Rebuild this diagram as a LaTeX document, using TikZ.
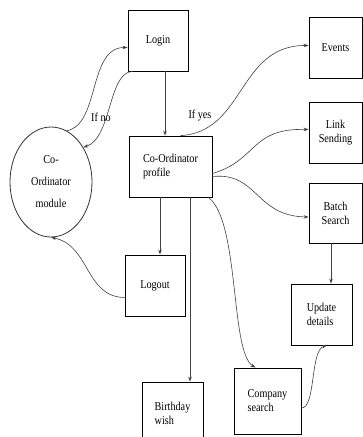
\documentclass[tikz,border=0pt]{standalone}
\usepackage{fontspec}
\setmainfont{Liberation Serif}[FakeStretch=0.85]
\usetikzlibrary{shapes.geometric,arrows.meta}
\begin{document}
\begin{tikzpicture}[x=1pt,y=-1pt,
  box/.style={draw=black,line width=0.8pt,align=left,inner sep=2pt,font=\fontsize{12}{14}\selectfont},
  arr/.style={draw=black!75,line width=0.6pt,-{Stealth[length=5pt,width=3.5pt]}},
  lbl/.style={font=\fontsize{12}{14}\selectfont,inner sep=0pt}]
\useasboundingbox (0,0) rectangle (363,437);
\clip (0,0) rectangle (363,437);
\node[box,minimum width=60pt,minimum height=61pt] (login) at (158,40.5) {Login};
\node[box,minimum width=83pt,minimum height=61pt] (prof) at (170.5,166.5) {Co-Ordinator\\profile};
\node[box,minimum width=53pt,minimum height=61pt] (ev) at (335.5,47.5) {Events};
\node[box,minimum width=53pt,minimum height=61pt,align=center] (link) at (335.5,132.5) {Link\\Sending};
\node[box,minimum width=53pt,minimum height=60pt,align=center] (batch) at (335.5,213) {Batch\\Search};
\node[box,minimum width=61pt,minimum height=61pt] (upd) at (321.5,314.5) {Update\\details};
\node[box,minimum width=67pt,minimum height=66pt] (comp) at (267.5,401) {Company\\search};
\node[box,minimum width=61pt,minimum height=63pt] (bday) at (172.5,413.5) {Birthday\\wish};
\node[box,minimum width=60pt,minimum height=61pt] (logout) at (155,285.5) {Logout};
\node[draw=black!80,line width=0.8pt,ellipse,minimum width=82pt,minimum height=110pt,align=center,inner sep=0pt,font=\fontsize{12}{22}\selectfont] (mod) at (51,182) {Co-\\Ordinator\\module};
\node[lbl] (ifno) at (101,117) {If no};
\node[lbl] (ifyes) at (200,116) {If yes};
% straight vertical arrows
\path ([xshift=7pt]login.south) coordinate (l1);
\draw[arr] (l1) -- (l1 |- prof.north);
\path ([xshift=-10.5pt]prof.south) coordinate (p1);
\draw[arr] (p1) -- (p1 |- logout.north);
\path ([xshift=19.5pt]prof.south) coordinate (p2);
\draw[arr] (p2) -- (p2 |- bday.north);
\path ([xshift=-4.5pt]batch.south) coordinate (b1);
\draw[arr] (b1) -- (b1 |- upd.north);
% curved arrows
\draw[arr] (mod.73) .. controls (100,125) and (88,47) .. ([yshift=-7pt]login.west);
\draw[arr] ([xshift=5pt]login.south west) .. controls (108,72) and (112,138) .. (mod.47);
\draw[arr] ([xshift=10pt]prof.north) .. controls (245,132) and (238,45) .. ([yshift=2pt]ev.west);
\draw[arr] ([yshift=-7pt]prof.east) .. controls (258,160) and (250,128) .. ([yshift=3pt]link.west);
\draw[arr] ([yshift=-10pt]prof.east) .. controls (258,172) and (255,216) .. ([yshift=-4pt]batch.west);
\draw[arr] ([xshift=38pt]prof.south) .. controls (240,222) and (230,352) .. ([xshift=-12pt]comp.north);
\draw[arr] ([yshift=-7pt]comp.east) .. controls (316,408) and (310,350) .. ([xshift=5.5pt]upd.south);
\draw[arr] ([yshift=-12pt]logout.west) .. controls (85,297) and (90,245) .. (mod.south);
\end{tikzpicture}
\end{document}
